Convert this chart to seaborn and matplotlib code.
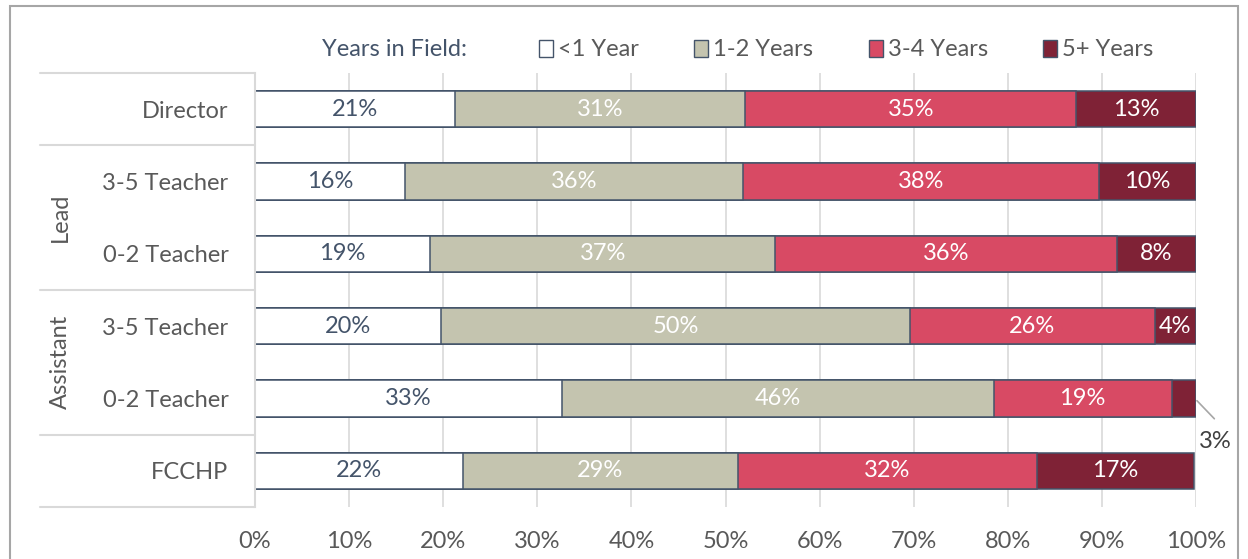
import matplotlib
matplotlib.use("Agg")
import matplotlib.pyplot as plt
import seaborn as sns
import pandas as pd
from matplotlib.patches import Patch, Rectangle
from matplotlib.lines import Line2D
from matplotlib.transforms import blended_transform_factory

# ---- data ----
row_ids = ["Director", "Lead 3-5", "Lead 0-2", "Asst 3-5", "Asst 0-2", "FCCHP"]
categories = ["Director", "3-5 Teacher", "0-2 Teacher", "3-5 Teacher", "0-2 Teacher", "FCCHP"]
groups = ["Lead", "Assistant"]
series = ["<1 Year", "1-2 Years", "3-4 Years", "5+ Years"]
lt1 = [21.3, 15.9, 18.6, 19.8, 32.6, 22.1]
y12 = [30.8, 36.0, 36.7, 49.8, 45.9, 29.2]
y34 = [35.2, 37.8, 36.3, 26.0, 18.9, 31.8]
y5p = [12.7, 10.3, 8.4, 4.4, 2.6, 16.7]
xticks = [0, 10, 20, 30, 40, 50, 60, 70, 80, 90, 100]

colors = ["#FFFFFF", "#C4C4AF", "#D84A64", "#7F2236"]
label_colors = ["#44546A", "white", "white", "white"]
edge = "#44546A"

sns.set_style("white")
plt.rcParams["font.family"] = ["Lato", "DejaVu Sans"]

W, H = 1248, 559
fig = plt.figure(figsize=(W / 100, H / 100), dpi=100)
ax = fig.add_axes([255 / W, 1 - 507 / H, (1196 - 255) / W, (507 - 73) / H])

vals = [lt1, y12, y34, y5p]
cum = []
run = [0.0] * len(row_ids)
for v in vals:
    run = [a + b for a, b in zip(run, v)]
    cum.append(run)

for i in reversed(range(4)):
    sns.barplot(x=cum[i], y=row_ids, order=row_ids, orient="h", color=colors[i],
                saturation=1, edgecolor=edge, linewidth=1.1, width=0.5, ax=ax)

# segment labels
for r in range(len(row_ids)):
    left = 0.0
    for i, v in enumerate(vals):
        val = v[r]
        if not (r == 4 and i == 3):
            ax.text(left + val / 2, r, f"{round(val)}%", ha="center", va="center",
                    fontsize=17, color=label_colors[i])
        left += val

# outside label for the small 5+ segment with a leader line
ax.plot([100.1, 101.95], [4.03, 4.28], color="#A6A6A6", lw=1.2, clip_on=False)
ax.text(102.0, 4.6, f"{round(y5p[4])}%", ha="center", va="center",
        fontsize=17, color="#404040", clip_on=False)

ax.set_xlim(0, 100)
ax.set_ylim(5.5, -0.5)
ax.set_xticks(xticks)
ax.set_xticklabels([f"{t}%" for t in xticks])
ax.set_yticks(range(len(row_ids)))
ax.set_yticklabels(categories)
ax.set_xlabel("")
ax.set_ylabel("")
ax.tick_params(axis="x", length=0, pad=17, labelsize=17, labelcolor="#595959")
ax.tick_params(axis="y", length=0, pad=19, labelsize=17, labelcolor="#595959")
ax.grid(axis="x", color="#D9D9D9", lw=1.2)
ax.set_axisbelow(True)
for s in ["top", "right", "bottom"]:
    ax.spines[s].set_visible(False)
ax.spines["left"].set_color("#D9D9D9")
ax.spines["left"].set_linewidth(1.5)

# category table lines and group labels
trans = blended_transform_factory(fig.transFigure, ax.transData)
for yv in [-0.5, 0.5, 2.5, 4.5, 5.5]:
    fig.add_artist(Line2D([40 / W, 255 / W], [yv, yv], transform=trans,
                          color="#D9D9D9", lw=1.5))
ax.text(60 / W, 1.5, groups[0], transform=trans, rotation=90, ha="center",
        va="center", fontsize=17, color="#595959")
ax.text(60 / W, 3.5, groups[1], transform=trans, rotation=90, ha="center",
        va="center", fontsize=17, color="#595959")

# legend
fig.text(322 / W, 1 - 50 / H, "Years in Field:", ha="left", va="center",
         fontsize=17, color="#44546A")
handles = [Patch(facecolor=c, edgecolor=edge, lw=1) for c in colors]
fig.legend(handles, series, loc="center left", bbox_to_anchor=(539 / W, 1 - 50 / H),
           ncol=4, frameon=False, fontsize=17, handlelength=0.6, handleheight=0.75,
           handletextpad=0.2, columnspacing=2.35, borderaxespad=0, borderpad=0,
           labelcolor="#595959")

# outer border
fig.add_artist(Rectangle((10 / W, -0.05), (1238 - 10) / W, 1.05 - 6 / H,
                         transform=fig.transFigure, fill=False,
                         edgecolor="#A6A6A6", lw=1.5))

fig.savefig("out.png", dpi=100)
